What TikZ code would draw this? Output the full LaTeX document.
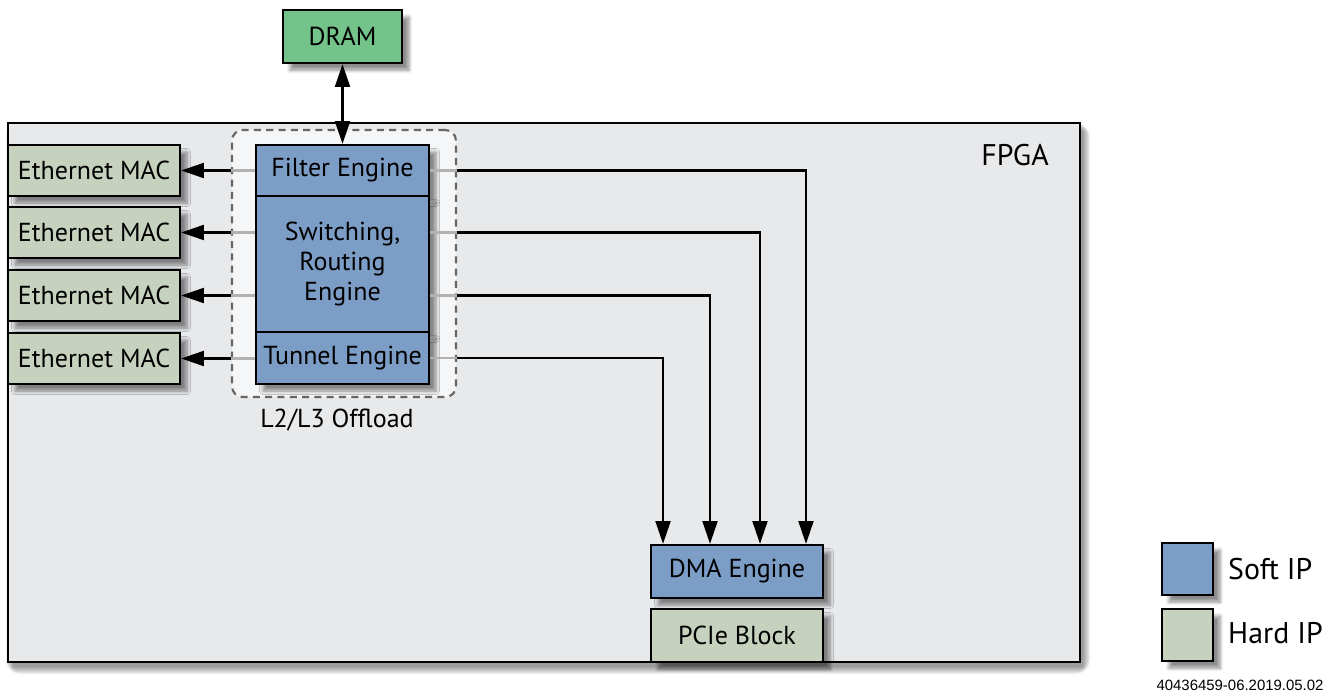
\documentclass[tikz,border=0pt]{standalone}
\usepackage{fontspec}
\setmainfont{PT Sans}
\newfontfamily\footfont{Liberation Sans}
\usetikzlibrary{arrows.meta,shadows.blur}
\definecolor{softblue}{HTML}{7C9DC6}
\definecolor{hardgreen}{HTML}{C7D2BE}
\definecolor{dramgreen}{HTML}{73C38B}
\definecolor{fpgagray}{HTML}{E8E9EB}

\begin{document}
\begin{tikzpicture}[x=0.02cm,y=-0.02cm,>={Triangle[length=13pt,width=8.5pt]},
    shade/.style={blur shadow={shadow xshift=4pt,shadow yshift=-4pt,shadow blur steps=8,shadow opacity=45}},
    block/.style={draw=black,line width=1.3pt,font=\fontsize{14.8}{17}\selectfont,align=center,inner sep=0pt,shade},
    mac/.style={block,fill=hardgreen,minimum width=3.44cm,minimum height=1.02cm},
    engine/.style={block,fill=softblue,minimum width=3.46cm},
    wire/.style={line width=1.3pt},
    faint/.style={wire,draw=black!30}]
    \useasboundingbox (0,0) rectangle (1338,696);

    % FPGA outline
    \foreach \s in {1,...,8}
        \fill[black,opacity=0.06,rounded corners=\s pt] (8+6-\s,123+8-\s) rectangle (1080+2+\s,662+4+\s);
    \node[draw=black,line width=1.5pt,fill=fpgagray,minimum width=21.44cm,minimum height=10.78cm,inner sep=0pt] (fpga) at (544,392.5) {};
    \node[font=\fontsize{17}{20}\selectfont] (fpgalbl) at (1015,155) {FPGA};

    % offload group
    \node[draw=black!60,dash pattern=on 4pt off 3pt,line width=1.2pt,rounded corners=6pt,
          fill=white,fill opacity=0.6,minimum width=4.48cm,minimum height=5.34cm,inner sep=0pt] (offload) at (344,263.5) {};
    \node[font=\fontsize{14.8}{17}\selectfont] (offlbl) at (337,420) {L2/L3 Offload};

    % memory
    \node[block,fill=dramgreen,minimum width=2.38cm,minimum height=1.06cm] (dram) at (342.5,36.5) {DRAM};

    % engines
    \node[engine,minimum height=1.02cm] (filter) at (342.5,170.5) {Filter Engine};
    \node[engine,minimum height=2.72cm] (switch) at (342.5,264) {Switching,\\Routing\\Engine};
    \node[engine,minimum height=1.04cm] (tunnel) at (342.5,358) {Tunnel Engine};

    % ethernet ports
    \node[mac] (mac1) at (94,170.5) {Ethernet MAC};
    \node[mac] (mac2) at (94,232.5) {Ethernet MAC};
    \node[mac] (mac3) at (94,295.5) {Ethernet MAC};
    \node[mac] (mac4) at (94,358.5) {Ethernet MAC};

    % dma side
    \node[engine,minimum width=3.44cm,minimum height=1.06cm] (dma) at (737,571.5) {DMA Engine};
    \node[mac,minimum height=1.06cm] (pcie) at (737,635.5) {PCIe Block};

    % legend
    \node[block,fill=softblue,minimum width=1.02cm,minimum height=1.04cm] (softkey) at (1187.5,569) {};
    \node[block,fill=hardgreen,minimum width=1.02cm,minimum height=1.04cm] (hardkey) at (1187.5,635) {};
    \node[anchor=west,font=\fontsize{17}{20}\selectfont] (softlbl) at (1222,569) {Soft IP};
    \node[anchor=west,font=\fontsize{17}{20}\selectfont] (hardlbl) at (1222,633) {Hard IP};
    \node[font=\footfont\fontsize{8.5}{10}\selectfont] (docid) at (1240,685) {40436459-06.2019.05.02};

    % connections to the MACs
    \draw[faint] (mac1.east -| filter.west) -- (mac1.east -| offload.west);
    \draw[faint] (mac2.east -| switch.west) -- (mac2.east -| offload.west);
    \draw[faint] (mac3.east -| switch.west) -- (mac3.east -| offload.west);
    \draw[faint] (mac4.east -| tunnel.west) -- (mac4.east -| offload.west);
    \draw[wire,<-] (mac1.east) -- (mac1.east -| offload.west);
    \draw[wire,<-] (mac2.east) -- (mac2.east -| offload.west);
    \draw[wire,<-] (mac3.east) -- (mac3.east -| offload.west);
    \draw[wire,<-] (mac4.east) -- (mac4.east -| offload.west);

    % connections to the DMA engine
    \draw[faint] (filter.east) -- (filter.east -| offload.east);
    \draw[faint] (mac2.east -| switch.east) -- (mac2.east -| offload.east);
    \draw[faint] (mac3.east -| switch.east) -- (mac3.east -| offload.east);
    \draw[faint] (tunnel.east) -- (tunnel.east -| offload.east);
    \draw[wire,->] (filter.east -| offload.east) -| ([xshift=1.38cm]dma.north);
    \draw[wire,->] (mac2.east -| offload.east) -| ([xshift=0.46cm]dma.north);
    \draw[wire,->] (mac3.east -| offload.east) -| ([xshift=-0.54cm]dma.north);
    \draw[wire,->] (tunnel.east -| offload.east) -| ([xshift=-1.48cm]dma.north);

    \draw[wire,<->] (dram.south) -- (filter.north);
\end{tikzpicture}
\end{document}
